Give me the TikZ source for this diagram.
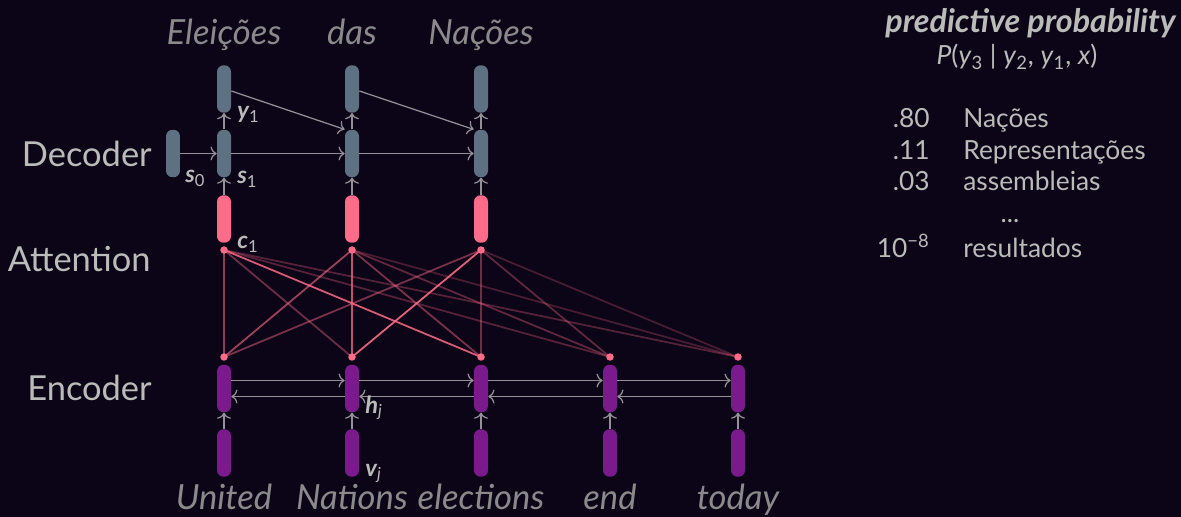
\documentclass[tikz,border=0pt]{standalone}
\usepackage{fontspec}
\setmainfont{Lato}
\usepackage{xcolor}
\usepackage{tikz}
\usetikzlibrary{arrows.meta}

\definecolor{bgdark}{RGB}{12,4,23}
\definecolor{txtgray}{RGB}{186,188,186}
\definecolor{wordgray}{RGB}{138,138,140}
\definecolor{decslate}{RGB}{94,113,130}
\definecolor{attpink}{RGB}{255,107,136}
\definecolor{encpurple}{RGB}{122,26,140}
\definecolor{arrgray}{RGB}{146,146,152}

\tikzset{
    bar/.style={rectangle, rounded corners=0.13cm, minimum width=0.28cm, minimum height=0.95cm, inner sep=0pt},
    dec/.style={bar, fill=decslate},
    ctx/.style={bar, fill=attpink},
    enc/.style={bar, fill=encpurple},
    dot/.style={circle, fill=attpink, inner sep=0pt, minimum size=0.15cm},
    arr/.style={-{To[length=3.5pt, width=8pt]}, draw=arrgray, line width=0.7pt},
    attn/.style={draw=attpink, line width=1pt},
    lbl/.style={text=txtgray, inner sep=0pt, anchor=base west, font=\fontsize{13.5}{15}\selectfont\bfseries\itshape},
    side/.style={text=txtgray, inner sep=0pt, anchor=base east, font=\fontsize{19.6}{23}\selectfont},
    word/.style={text=wordgray, inner sep=0pt, anchor=base, font=\fontsize{19.7}{23}\selectfont\itshape},
    prob/.style={text=txtgray, inner sep=0pt, font=\fontsize{15}{18}\selectfont},
}

\begin{document}
\begin{tikzpicture}[x=0.02cm, y=-0.02cm]

    % page and background
    \fill[bgdark] (0,0) rectangle (1181,517);
    \useasboundingbox (0,0) rectangle (1181,517);

    % decoder
    \node[dec] (y1) at (224,89) {};
    \node[dec] (y2) at (352,89) {};
    \node[dec] (y3) at (481,89) {};
    \node[dec] (s0) at (173,153.5) {};
    \node[dec] (s1) at (224,153.5) {};
    \node[dec] (s2) at (352,153.5) {};
    \node[dec] (s3) at (481,153.5) {};

    % context vectors
    \node[ctx] (c1) at (224,219) {};
    \node[ctx] (c2) at (352,219) {};
    \node[ctx] (c3) at (481,219) {};

    % encoder
    \node[enc] (h1) at (224,388.5) {};
    \node[enc] (h2) at (352,388.5) {};
    \node[enc] (h3) at (481,388.5) {};
    \node[enc] (h4) at (610,388.5) {};
    \node[enc] (h5) at (738,388.5) {};
    \node[enc] (v1) at (224,453) {};
    \node[enc] (v2) at (352,453) {};
    \node[enc] (v3) at (481,453) {};
    \node[enc] (v4) at (610,453) {};
    \node[enc] (v5) at (738,453) {};

    % attention weights
    \coordinate (a1) at (224,250);
    \coordinate (a2) at (352,250);
    \coordinate (a3) at (481,250);
    \coordinate (b1) at (224,357);
    \coordinate (b2) at (352,357);
    \coordinate (b3) at (481,357);
    \coordinate (b4) at (610,357);
    \coordinate (b5) at (738,357);

    \draw[attn, opacity=.3] (a1) -- (b5);
    \draw[attn, opacity=.3] (a1) -- (b4);
    \draw[attn, opacity=.4] (a1) -- (b2);
    \draw[attn, opacity=.55] (a1) -- (b1);
    \draw[attn, opacity=.25] (a2) -- (b5);
    \draw[attn, opacity=.35] (a2) -- (b4);
    \draw[attn, opacity=.45] (a2) -- (b3);
    \draw[attn, opacity=.6] (a2) -- (b1);
    \draw[attn, opacity=.75] (a2) -- (b2);
    \draw[attn, opacity=.25] (a3) -- (b5);
    \draw[attn, opacity=.35] (a3) -- (b4);
    \draw[attn, opacity=.4] (a3) -- (b3);
    \draw[attn, opacity=.45] (a3) -- (b1);
    \draw[attn, opacity=.85] (a1) -- (b3);
    \draw[attn, opacity=.9] (a3) -- (b2);

    \node[dot] (d1) at (a1) {};
    \node[dot] (d2) at (a2) {};
    \node[dot] (d3) at (a3) {};
    \node[dot] (e1) at (b1) {};
    \node[dot] (e2) at (b2) {};
    \node[dot] (e3) at (b3) {};
    \node[dot] (e4) at (b4) {};
    \node[dot] (e5) at (b5) {};

    % decoder arrows
    \draw[arr] (s0) -- (s1);
    \draw[arr] (s1) -- (s2);
    \draw[arr] (s2) -- (s3);
    \draw[arr] (c1) -- (s1);
    \draw[arr] (c2) -- (s2);
    \draw[arr] (c3) -- (s3);
    \draw[arr] (s1) -- (y1);
    \draw[arr] (s2) -- (y2);
    \draw[arr] (s3) -- (y3);
    \draw[arr] ([yshift=-0.04cm]y1.east) -- (s2.north west);
    \draw[arr] ([yshift=-0.04cm]y2.east) -- (s3.north west);

    % encoder arrows
    \draw[arr] (v1) -- (h1);
    \draw[arr] (v2) -- (h2);
    \draw[arr] (v3) -- (h3);
    \draw[arr] (v4) -- (h4);
    \draw[arr] (v5) -- (h5);
    \draw[arr] ([yshift=0.16cm]h1.east) -- ([yshift=0.16cm]h2.west);
    \draw[arr] ([yshift=0.16cm]h2.east) -- ([yshift=0.16cm]h3.west);
    \draw[arr] ([yshift=0.16cm]h3.east) -- ([yshift=0.16cm]h4.west);
    \draw[arr] ([yshift=0.16cm]h4.east) -- ([yshift=0.16cm]h5.west);
    \draw[arr] ([yshift=-0.16cm]h5.west) -- ([yshift=-0.16cm]h4.east);
    \draw[arr] ([yshift=-0.16cm]h4.west) -- ([yshift=-0.16cm]h3.east);
    \draw[arr] ([yshift=-0.16cm]h3.west) -- ([yshift=-0.16cm]h2.east);
    \draw[arr] ([yshift=-0.16cm]h2.west) -- ([yshift=-0.16cm]h1.east);

    % vector labels
    \node[lbl] (ly1) at (237,119) {y\textsubscript{\normalfont 1}};
    \node[lbl] (ls0) at (185,183) {s\textsubscript{\normalfont 0}};
    \node[lbl] (ls1) at (237,184) {s\textsubscript{\normalfont 1}};
    \node[lbl] (lc1) at (237,249) {c\textsubscript{\normalfont 1}};
    \node[lbl] (lh) at (365,413) {h\textsubscript{\normalfont\itshape j}};
    \node[lbl] (lv) at (365,476) {v\textsubscript{\normalfont\itshape j}};

    % layer names
    \node[side] (decoder) at (152,167) {Decoder};
    \node[side] (attention) at (151,272) {Attention};
    \node[side] (encoder) at (152,400) {Encoder};

    % target and source words
    \node[word] (t1) at (224,45) {Eleições};
    \node[word] (t2) at (352,45) {das};
    \node[word] (t3) at (481,45) {Nações};
    \node[word] (w1) at (224,509) {United};
    \node[word] (w2) at (352,509) {Nations};
    \node[word] (w3) at (481,509) {elections};
    \node[word] (w4) at (610,509) {end};
    \node[word] (w5) at (738,509) {today};

    % output distribution
    \node[prob, anchor=base east, font=\fontsize{18.4}{21}\selectfont\bfseries\itshape] (title) at (1176,33) {predictive probability};
    \node[prob, anchor=base] (cond) at (1017,65) {\textit{P}(\textit{y}\textsubscript{3} | \textit{y}\textsubscript{2}, \textit{y}\textsubscript{1}, \textit{x})};
    \node[prob, anchor=base east] (p1) at (930,128) {.80};
    \node[prob, anchor=base west] (n1) at (963,128) {Nações};
    \node[prob, anchor=base east] (p2) at (930,160) {.11};
    \node[prob, anchor=base west] (n2) at (963,160) {Representações};
    \node[prob, anchor=base east] (p3) at (930,191) {.03};
    \node[prob, anchor=base west] (n3) at (963,191) {assembleias};
    \node[prob, anchor=base] (gap) at (1010,222) {...};
    \node[prob, anchor=base east] (p4) at (930,257) {10\textsuperscript{−8}};
    \node[prob, anchor=base west] (n4) at (963,257) {resultados};

\end{tikzpicture}
\end{document}
